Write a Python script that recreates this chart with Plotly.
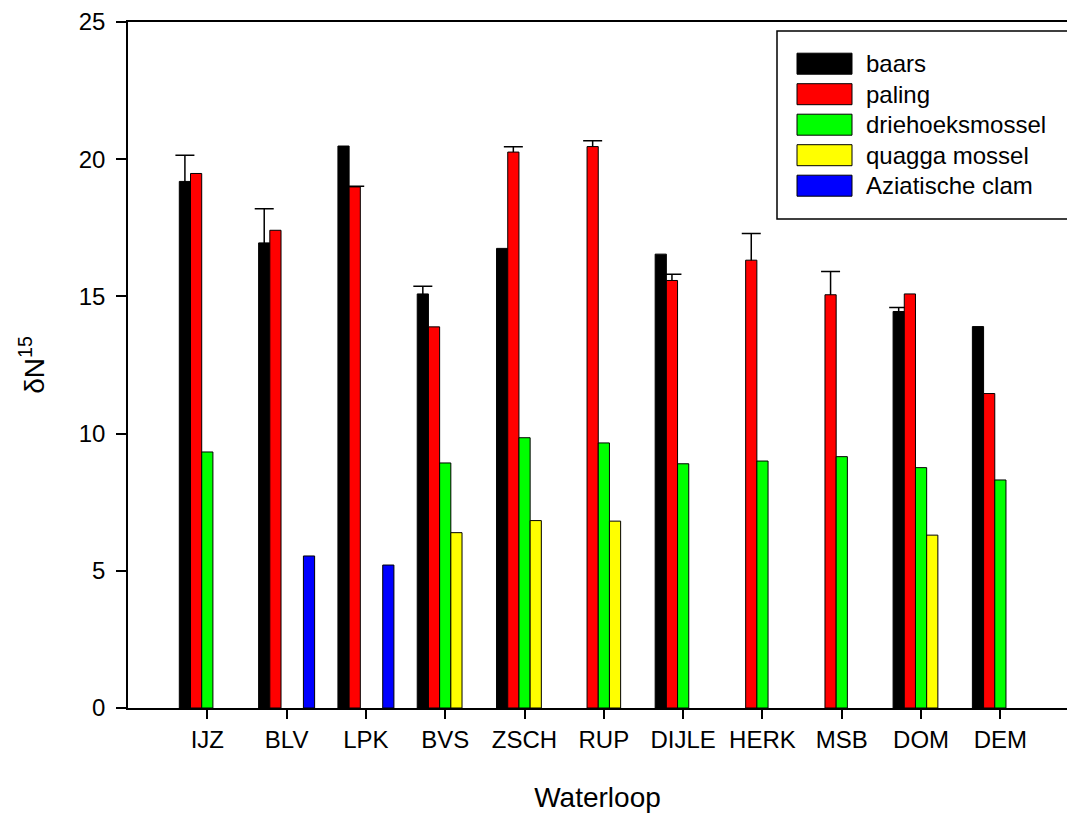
import plotly.graph_objects as go

# Sampling sites (Waterloop) and mean δ15N per species
categories = ["IJZ", "BLV", "LPK", "BVS", "ZSCH", "RUP", "DIJLE", "HERK", "MSB", "DOM", "DEM"]

baars = [19.19, 16.95, 20.48, 15.09, 16.75, None, 16.54, None, None, 14.45, 13.90]
baars_err = [0.95, 1.24, None, 0.28, None, None, None, None, None, 0.15, None]

paling = [19.48, 17.41, 18.99, 13.89, 20.26, 20.46, 15.58, 16.32, 15.06, 15.09, 11.46]
paling_err = [None, None, 0.02, None, 0.19, 0.21, 0.23, 0.97, 0.85, None, None]

driehoeksmossel = [9.33, None, None, 8.93, 9.85, 9.66, 8.90, 9.00, 9.16, 8.76, 8.31]
quagga_mossel = [None, None, None, 6.39, 6.83, 6.81, None, None, None, 6.30, None]
aziatische_clam = [None, 5.54, 5.21, None, None, None, None, None, None, None, None]

series = [
    ("baars", baars, baars_err, "#000000"),
    ("paling", paling, paling_err, "#ff0000"),
    ("driehoeksmossel", driehoeksmossel, None, "#00ff00"),
    ("quagga mossel", quagga_mossel, None, "#ffff00"),
    ("Aziatische clam", aziatische_clam, None, "#0000ff"),
]

FONT = "Arial, Liberation Sans, sans-serif"

fig = go.Figure()

# Upper error bars first: each uses an invisible bar in its series' slot; the
# lower end is pushed below the axis (clipped), and the stem inside the bar is
# hidden by the filled bars drawn afterwards.
for name, vals, errs, color in series:
    if errs is None:
        continue
    err_vals = [v if e is not None else None for v, e in zip(vals, errs)]
    fig.add_trace(go.Bar(
        x=categories, y=err_vals, offsetgroup=name, showlegend=False,
        marker=dict(color="rgba(0,0,0,0)", line=dict(width=0)),
        error_y=dict(type="data", symmetric=False,
                     array=[e if e is not None else 0 for e in errs],
                     arrayminus=[(v + 5) if v is not None else 0 for v in vals],
                     color="#000000", thickness=1.5, width=9.5),
        hoverinfo="skip",
    ))

for name, vals, errs, color in series:
    fig.add_trace(go.Bar(
        x=categories, y=vals, name=name, offsetgroup=name,
        marker=dict(color=color, line=dict(color="#000000", width=1)),
        showlegend=False,
    ))

# Legend box drawn with shapes so the swatches can be wide rectangles
L, T, B = 128, 22, 708
W, H = 1067, 816
pw, ph = W - L, B - T


def px(x):
    return (x - L) / pw


def py(y):
    return (B - y) / ph


shapes = [dict(type="rect", xref="paper", yref="paper",
               x0=px(777), x1=px(1075), y0=py(219), y1=py(31),
               line=dict(color="#000000", width=1.5), fillcolor="white", layer="above")]
annotations = []
for i, (name, _, _, color) in enumerate(series):
    cy = 63.7 + i * 30.5
    shapes.append(dict(type="rect", xref="paper", yref="paper",
                       x0=px(797), x1=px(852), y0=py(cy + 10.5), y1=py(cy - 10.5),
                       line=dict(color="#000000", width=1), fillcolor=color, layer="above"))
    annotations.append(dict(xref="paper", yref="paper", x=px(864), y=py(cy),
                            xanchor="left", yanchor="middle", text=name, showarrow=False,
                            font=dict(family=FONT, size=24, color="#000000")))

fig.update_layout(
    width=W, height=H,
    margin=dict(l=L, r=0, t=T, b=H - B),
    barmode="group", bargap=0.294, bargroupgap=0,
    plot_bgcolor="white", paper_bgcolor="white",
    font=dict(family=FONT, size=24, color="#000000"),
    shapes=shapes, annotations=annotations,
    xaxis=dict(type="category", range=[-1, 10.84], showgrid=False, zeroline=False,
               showline=True, linecolor="#000000", linewidth=1.5, mirror=True,
               ticks="outside", ticklen=9, tickwidth=1.5, tickcolor="#000000",
               tickfont=dict(family=FONT, size=24),
               title=dict(text="Waterloop", font=dict(family=FONT, size=28), standoff=36)),
    yaxis=dict(range=[0, 25], dtick=5, showgrid=False, zeroline=False,
               showline=True, linecolor="#000000", linewidth=1.5,
               ticks="outside", ticklen=10, tickwidth=1.5, tickcolor="#000000",
               ticklabelstandoff=6,
               tickfont=dict(family=FONT, size=24),
               title=dict(text="δN<sup>15</sup>", font=dict(family=FONT, size=28), standoff=26)),
)

fig.write_html("out.html")
